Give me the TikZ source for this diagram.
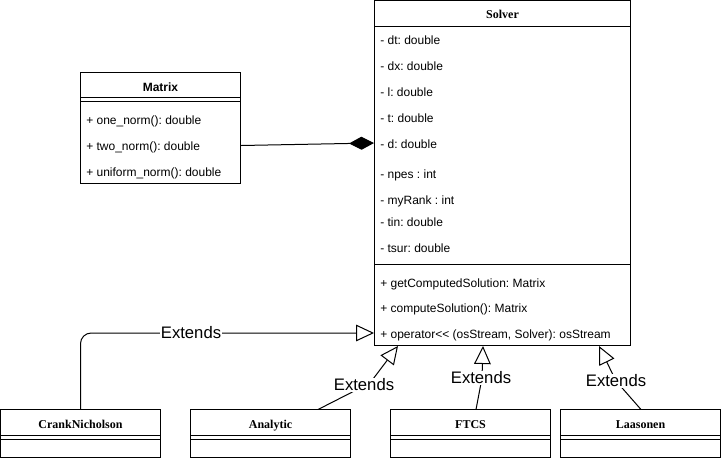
\documentclass[tikz,border=0pt]{standalone}
\usepackage{fontspec}
\setmainfont{Liberation Serif}
\setsansfont{Liberation Sans}
\frenchspacing
\usetikzlibrary{arrows.meta,fit}
\tikzset{
  box/.style={draw, line width=0.75pt, inner sep=0pt},
  attr/.style={anchor=base west, inner sep=0pt, font=\sffamily\fontsize{9pt}{11pt}\selectfont},
  ttl/.style={anchor=base, inner sep=0pt, font=\bfseries\fontsize{9pt}{11pt}\selectfont},
  sttl/.style={anchor=base, inner sep=0pt, font=\sffamily\bfseries\fontsize{9pt}{11pt}\selectfont},
  lbl/.style={fill=white, inner sep=1pt, font=\sffamily\fontsize{12.5pt}{15pt}\selectfont},
  gen/.style={-{Triangle[open,length=13.5pt,width=12.5pt]}, line width=0.75pt},
  comp/.style={-{Diamond[length=18.75pt,width=9.75pt]}, line width=0.75pt},
  sep/.style={line width=0.75pt}
}
\begin{document}
\begin{tikzpicture}[x=0.75pt,y=-0.75pt]
\useasboundingbox (0,0) rectangle (721,458);
% Solver
\node[box, fit={(374.5,0.5) (630.5,345.5)}] (solver) {};
\node[ttl] (solvert) at (502.5,18) {Solver};
\draw[sep] (solver.west |- 0,26) -- (solver.east |- 0,26);
\draw[sep] (solver.west |- 0,264.5) -- (solver.east |- 0,264.5);
\node[attr] (s1) at (380,44.5) {- dt: double};
\node[attr] (s2) at (380,70.5) {- dx: double};
\node[attr] (s3) at (380,96.5) {- l: double};
\node[attr] (s4) at (380,122.5) {- t: double};
\node[attr] (s5) at (380,148.5) {- d: double};
\node[attr] (s6) at (380,178) {- npes : int};
\node[attr] (s7) at (380,204) {- myRank : int};
\node[attr] (s8) at (380,226.5) {- tin: double};
\node[attr] (s9) at (380,252.5) {- tsur: double};
\node[attr] (m1) at (380,287) {+ getComputedSolution: Matrix};
\node[attr] (m2) at (380,312.5) {+ computeSolution(): Matrix};
\node[attr] (m3) at (380,338.5) {+ operator{<}{<} (osStream, Solver): osStream};
% Matrix
\node[box, fit={(80.5,72.5) (240.5,183.5)}] (matrix) {};
\node[sttl] (matrixt) at (160.5,91) {Matrix};
\draw[sep] (matrix.west |- 0,97.5) -- (matrix.east |- 0,97.5);
\draw[sep] (matrix.west |- 0,101.5) -- (matrix.east |- 0,101.5);
\node[attr] (x1) at (86,124.5) {+ one\_norm(): double};
\node[attr] (x2) at (86,150.5) {+ two\_norm(): double};
\node[attr] (x3) at (86,176.5) {+ uniform\_norm(): double};
% bottom classes
\foreach \n/\t/\xa in {crank/CrankNicholson/0.5, analytic/Analytic/190.5, ftcs/FTCS/390.5, laasonen/Laasonen/560.5}{
  \node[box, fit={(\xa,409.5) (\xa+160,457.5)}] (\n) {};
  \node[ttl] (\n t) at (\xa+80,428) {\t};
  \draw[sep] (\n.west |- 0,435.5) -- (\n.east |- 0,435.5);
  \draw[sep] (\n.west |- 0,439.5) -- (\n.east |- 0,439.5);
}
% composition
\coordinate (mc) at (matrix.east |- 0,145.5);
\coordinate (sc) at (solver.west |- 0,143);
\draw[comp] (mc) -- (sc);
% generalizations
\coordinate (tc) at (crank.north |- 0,409.5);
\coordinate (ic) at (solver.west |- 0,333);
\draw[gen, rounded corners=8pt] (tc) |- (ic);
\node[lbl] (lc) at (191,333) {Extends};

\coordinate (ta) at (318,409.5);
\coordinate (wa) at (370,383);
\coordinate (ia) at (398,346);
\draw[gen] (ta) -- (wa) -- (ia);
\node[lbl] (la) at (364,385) {Extends};

\coordinate (tf) at (476,409.5);
\coordinate (wf) at (482,378);
\coordinate (iff) at (483,346);
\draw[gen] (tf) -- (wf) -- (iff);
\node[lbl] (lf) at (481,378) {Extends};

\coordinate (tl) at (641,409.5);
\coordinate (wl) at (616,381);
\coordinate (il) at (599,346);
\draw[gen] (tl) -- (wl) -- (il);
\node[lbl] (ll) at (616,381) {Extends};
\end{tikzpicture}
\end{document}
